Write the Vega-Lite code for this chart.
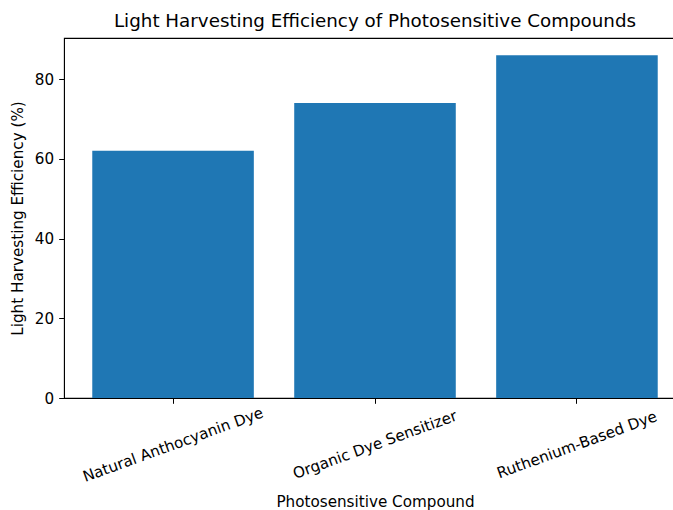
{
  "$schema": "https://vega.github.io/schema/vega-lite/v6.json",
  "autosize": "none",
  "padding": {"left": 64, "top": 38, "right": 0, "bottom": 112},
  "width": 622,
  "height": 360,
  "background": "white",
  "title": {
    "text": "Light Harvesting Efficiency of Photosensitive Compounds",
    "font": "DejaVu Sans",
    "fontSize": 18.3,
    "fontWeight": "normal",
    "color": "#000000",
    "offset": 7,
    "anchor": "middle",
    "frame": "group"
  },
  "config": {
    "view": {"stroke": "#000000", "strokeWidth": 1.1},
    "font": "DejaVu Sans"
  },
  "data": {
    "values": [
      {"compound": "Natural Anthocyanin Dye", "efficiency": 62},
      {"compound": "Organic Dye Sensitizer", "efficiency": 74},
      {"compound": "Ruthenium-Based Dye", "efficiency": 86}
    ]
  },
  "mark": {"type": "bar", "color": "#1f77b4"},
  "encoding": {
    "x": {
      "field": "compound",
      "type": "nominal",
      "sort": null,
      "title": "Photosensitive Compound",
      "scale": {"paddingInner": 0.2, "paddingOuter": 0.14},
      "axis": {
        "labelAngle": -20,
        "labelAlign": "center",
        "labelBaseline": "middle",
        "labelPadding": 41,
        "labelLimit": 0,
        "labelFont": "DejaVu Sans",
        "labelFontSize": 15.2,
        "labelColor": "#000000",
        "titleFont": "DejaVu Sans",
        "titleFontSize": 15.2,
        "titleFontWeight": "normal",
        "titleColor": "#000000",
        "titlePadding": 10,
        "domainColor": "#000000",
        "tickColor": "#000000",
        "tickSize": 5.3,
        "labelOverlap": false
      }
    },
    "y": {
      "field": "efficiency",
      "type": "quantitative",
      "title": "Light Harvesting Efficiency (%)",
      "scale": {"domain": [0, 90.3], "nice": false},
      "axis": {
        "values": [0, 20, 40, 60, 80],
        "grid": false,
        "labelFont": "DejaVu Sans",
        "labelFontSize": 15.2,
        "labelColor": "#000000",
        "labelPadding": 5,
        "titleFont": "DejaVu Sans",
        "titleFontSize": 15.2,
        "titleFontWeight": "normal",
        "titleColor": "#000000",
        "titlePadding": 9,
        "domainColor": "#000000",
        "tickColor": "#000000",
        "tickSize": 5.3
      }
    }
  }
}
